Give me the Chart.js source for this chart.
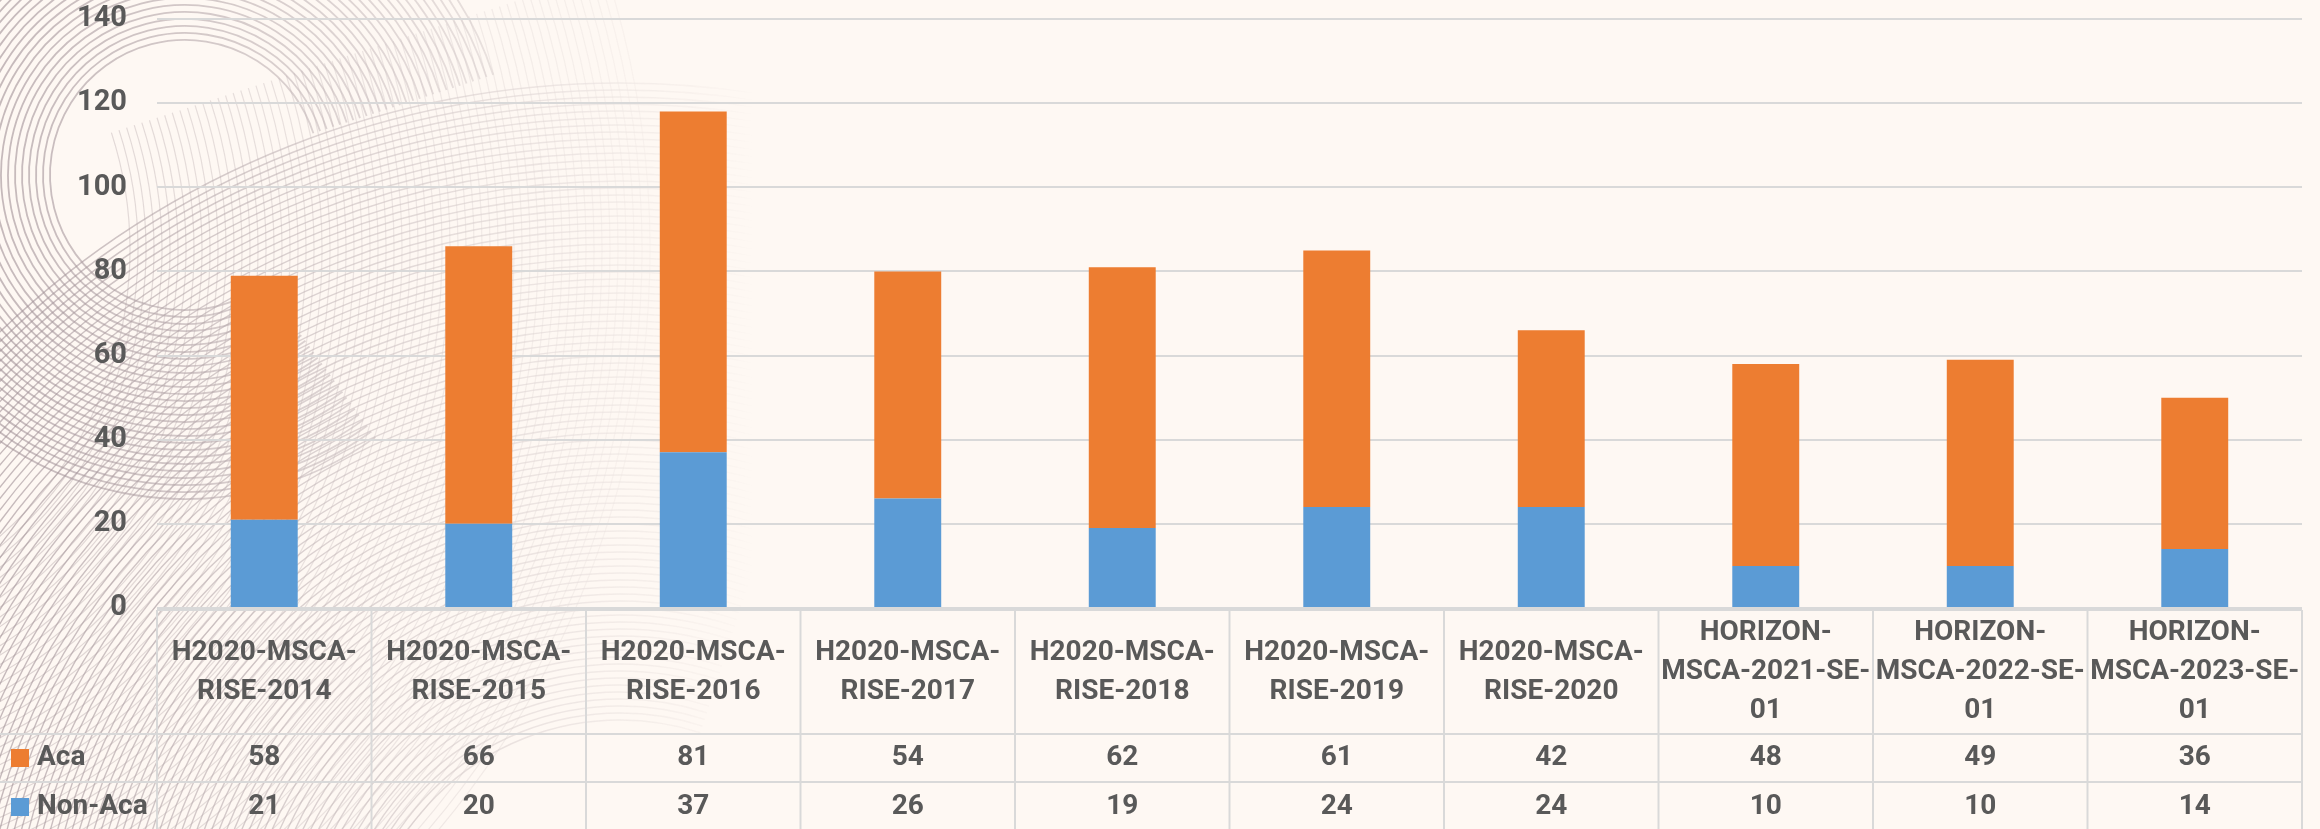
<!DOCTYPE html>
<html>
<head>
<meta charset="utf-8">
<script src="https://cdn.jsdelivr.net/npm/chart.js@4.4.1/dist/chart.umd.min.js"></script>
<style>
  html, body { margin: 0; padding: 0; background: #fef8f3; }
  #wrap { width: 2320px; height: 829px; position: relative; }
</style>
</head>
<body>
<div id="wrap"><canvas id="chart"></canvas></div>
<script>
// ── DATA ──
const categories = [
  ['H2020-MSCA-', 'RISE-2014'],
  ['H2020-MSCA-', 'RISE-2015'],
  ['H2020-MSCA-', 'RISE-2016'],
  ['H2020-MSCA-', 'RISE-2017'],
  ['H2020-MSCA-', 'RISE-2018'],
  ['H2020-MSCA-', 'RISE-2019'],
  ['H2020-MSCA-', 'RISE-2020'],
  ['HORIZON-', 'MSCA-2021-SE-', '01'],
  ['HORIZON-', 'MSCA-2022-SE-', '01'],
  ['HORIZON-', 'MSCA-2023-SE-', '01']
];
const acaValues    = [58, 66, 81, 54, 62, 61, 42, 48, 49, 36];
const nonAcaValues = [21, 20, 37, 26, 19, 24, 24, 10, 10, 14];
const yTicks = [0, 20, 40, 60, 80, 100, 120, 140];

const colors = {
  aca:    '#ed7d31',
  nonAca: '#5b9bd5',
  text:   '#595959',
  grid:   '#d9d9d9',
  bg:     '#fef8f3'
};
const FONT = "Roboto, sans-serif";

// ── BACKGROUND SWIRLS (decoration of the slide behind the chart) ──
function buildSwirls(w, h) {
  const off = document.createElement('canvas');
  off.width = w; off.height = h;
  const c = off.getContext('2d');
  c.strokeStyle = 'rgba(125, 105, 115, 0.6)';
  // ring, top left
  c.lineWidth = 1.8;
  for (let r = 135; r <= 330; r += 7) {
    c.beginPath();
    c.arc(185, 175, r, Math.PI * 0.3, Math.PI * 1.9);
    c.stroke();
  }
  // wide arcs, lower left
  c.lineWidth = 1.4;
  for (let r = 260; r <= 900; r += 7) {
    c.beginPath();
    c.arc(620, 980, r, Math.PI * 1.0, Math.PI * 1.6);
    c.stroke();
  }
  // crossing arcs, lower left
  c.strokeStyle = 'rgba(125, 105, 115, 0.35)';
  c.lineWidth = 1.2;
  for (let r = 380; r <= 900; r += 8) {
    c.beginPath();
    c.arc(-250, 250, r, -Math.PI * 0.1, Math.PI * 0.45);
    c.stroke();
  }
  // fade towards the right
  c.globalCompositeOperation = 'destination-in';
  const g = c.createLinearGradient(0, 0, 760, 0);
  g.addColorStop(0, 'rgba(0,0,0,0.85)');
  g.addColorStop(0.45, 'rgba(0,0,0,0.5)');
  g.addColorStop(1, 'rgba(0,0,0,0)');
  c.fillStyle = g;
  c.fillRect(0, 0, w, h);
  return off;
}

const background = {
  id: 'background',
  beforeDraw(chart) {
    const ctx = chart.ctx;
    ctx.save();
    ctx.fillStyle = colors.bg;
    ctx.fillRect(0, 0, chart.width, chart.height);
    if (!chart.$swirls) chart.$swirls = buildSwirls(chart.width, chart.height);
    ctx.globalAlpha = 0.85;
    ctx.drawImage(chart.$swirls, 0, 0);
    ctx.restore();
  }
};

// ── DATA TABLE UNDER THE BARS ──
const dataTable = {
  id: 'dataTable',
  afterDraw(chart) {
    const ctx = chart.ctx;
    const x = chart.scales.x;
    const area = chart.chartArea;
    const n = categories.length;
    const colW = (area.right - area.left) / n;
    const top = area.bottom + 2;
    const headBottom = 734;
    const acaBottom = 782;
    const bottom = 832;

    ctx.save();
    ctx.strokeStyle = colors.grid;
    ctx.lineWidth = 2;
    ctx.beginPath();
    ctx.moveTo(area.left, top); ctx.lineTo(area.right, top);
    ctx.moveTo(0, headBottom); ctx.lineTo(area.right, headBottom);
    ctx.moveTo(0, acaBottom); ctx.lineTo(area.right, acaBottom);
    for (let i = 0; i <= n; i++) {
      const lx = area.left + i * colW;
      ctx.moveTo(lx, top); ctx.lineTo(lx, bottom);
    }
    ctx.stroke();

    ctx.fillStyle = colors.text;
    ctx.font = `bold 28px ${FONT}`;
    ctx.textAlign = 'center';
    ctx.textBaseline = 'middle';
    const headMid = (top + headBottom) / 2;
    const lineH = 39;
    categories.forEach((lines, i) => {
      const cx = x.getPixelForValue(i);
      const y0 = headMid - (lines.length - 1) * lineH / 2;
      lines.forEach((t, j) => ctx.fillText(t, cx, y0 + j * lineH));
      ctx.fillText(String(acaValues[i]), cx, (headBottom + acaBottom) / 2);
      ctx.fillText(String(nonAcaValues[i]), cx, (acaBottom + bottom) / 2);
    });

    // legend keys
    const rows = [
      { label: 'Aca', color: colors.aca, y: (headBottom + acaBottom) / 2 },
      { label: 'Non-Aca', color: colors.nonAca, y: (acaBottom + bottom) / 2 }
    ];
    ctx.textAlign = 'left';
    rows.forEach(r => {
      ctx.fillStyle = r.color;
      ctx.fillRect(11, r.y - 9, 18, 18);
      ctx.fillStyle = colors.text;
      ctx.fillText(r.label, 37, r.y);
    });
    ctx.restore();
  }
};

new Chart(document.getElementById('chart'), {
  type: 'bar',
  data: {
    labels: categories,
    datasets: [
      { label: 'Non-Aca', data: nonAcaValues, backgroundColor: colors.nonAca, barPercentage: 0.312, categoryPercentage: 1 },
      { label: 'Aca',     data: acaValues,    backgroundColor: colors.aca,    barPercentage: 0.312, categoryPercentage: 1 }
    ]
  },
  options: {
    responsive: true,
    maintainAspectRatio: false,
    animation: false,
    layout: { padding: { top: 19, right: 18, bottom: 221, left: 0 } },
    plugins: { legend: { display: false }, tooltip: { enabled: false } },
    scales: {
      x: { stacked: true, display: false },
      y: {
        stacked: true,
        min: 0,
        max: 140,
        afterBuildTicks: (s) => { s.ticks = yTicks.map(v => ({ value: v })); },
        afterFit: (s) => { s.width = 157; s.paddingTop = 0; s.paddingBottom = 0; },
        border: { display: false },
        grid: { color: colors.grid, lineWidth: 2, drawTicks: false },
        ticks: {
          color: colors.text,
          padding: 30,
          font: { family: FONT, size: 29, weight: 'bold', lineHeight: 1.2 }
        }
      }
    }
  },
  plugins: [background, dataTable]
});
</script>
</body>
</html>
